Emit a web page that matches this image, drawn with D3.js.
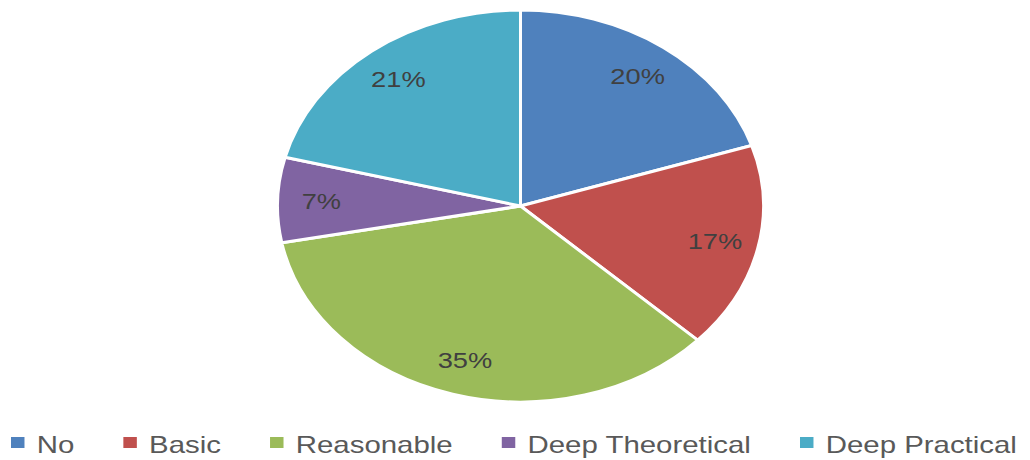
<!DOCTYPE html>
<html>
<head>
<meta charset="utf-8">
<script src="https://cdn.jsdelivr.net/npm/d3@7/dist/d3.min.js"></script>
<style>
  html, body { margin: 0; padding: 0; background: #fff; }
  svg { display: block; }
</style>
</head>
<body>
<svg id="chart" width="1030" height="460"></svg>
<script>
// Share of respondents by level of knowledge
const categories = ["No", "Basic", "Reasonable", "Deep Theoretical", "Deep Practical"];
const shares = [20, 17, 35, 7, 21];
const colors = ["#4F81BD", "#C0504D", "#9BBB59", "#8064A2", "#4BACC6"];

const data = categories.map((c, i) => ({ name: c, value: shares[i], color: colors[i] }));

const svg = d3.select("#chart");
const W = 1030;

// Pie is drawn as a circle and stretched horizontally into an ellipse
const cx = 520.5, cy = 206, ry = 196, rx = 243;
const stretch = rx / ry;

const pie = d3.pie().value(d => d.value).sort(null);
const arc = d3.arc().innerRadius(0).outerRadius(ry);
const labelArc = d3.arc().innerRadius(ry * 0.82).outerRadius(ry * 0.82);

const g = svg.append("g")
  .attr("transform", `translate(${cx},${cy}) scale(${stretch},1)`);

const arcs = pie(data);

g.selectAll("path.slice")
  .data(arcs)
  .enter().append("path")
  .attr("class", "slice")
  .attr("d", arc)
  .attr("fill", d => d.data.color)
  .attr("stroke", "#fff")
  .attr("stroke-width", 3)
  .attr("stroke-linejoin", "round")
  .attr("vector-effect", "non-scaling-stroke");

g.selectAll("text.pct")
  .data(arcs)
  .enter().append("text")
  .attr("class", "pct")
  .attr("transform", d => { const [x, y] = labelArc.centroid(d); return `translate(${x},${y})`; })
  .attr("text-anchor", "middle")
  .attr("dy", "0.36em")
  .attr("font-family", "Liberation Sans, Arial, sans-serif")
  .attr("font-size", 22)
  .attr("fill", "#404040")
  .text(d => d.data.value + "%");

// Legend row along the bottom
const legendLeft = 11, legendRight = 1017, baseline = 453;
const box = 11, boxGap = 10, itemGap = 40;

const legend = svg.append("g");
const items = legend.selectAll("g.item")
  .data(data)
  .enter().append("g")
  .attr("class", "item");

items.append("rect")
  .attr("width", box)
  .attr("height", box)
  .attr("y", baseline - 16)
  .attr("fill", d => d.color);

const labels = items.append("text")
  .attr("x", box + boxGap)
  .attr("y", baseline)
  .attr("font-family", "Liberation Sans, Arial, sans-serif")
  .attr("font-size", 24)
  .attr("fill", "#595959")
  .text(d => d.name);

let x = 0;
items.each(function () {
  const t = d3.select(this).select("text").node();
  d3.select(this).attr("transform", `translate(${x},0)`);
  x += box + boxGap + t.getComputedTextLength() + itemGap;
});
const total = x - itemGap;
const k = (legendRight - legendLeft) / total;
legend.attr("transform", `translate(${legendLeft},0) scale(${k},1)`);
</script>
</body>
</html>
